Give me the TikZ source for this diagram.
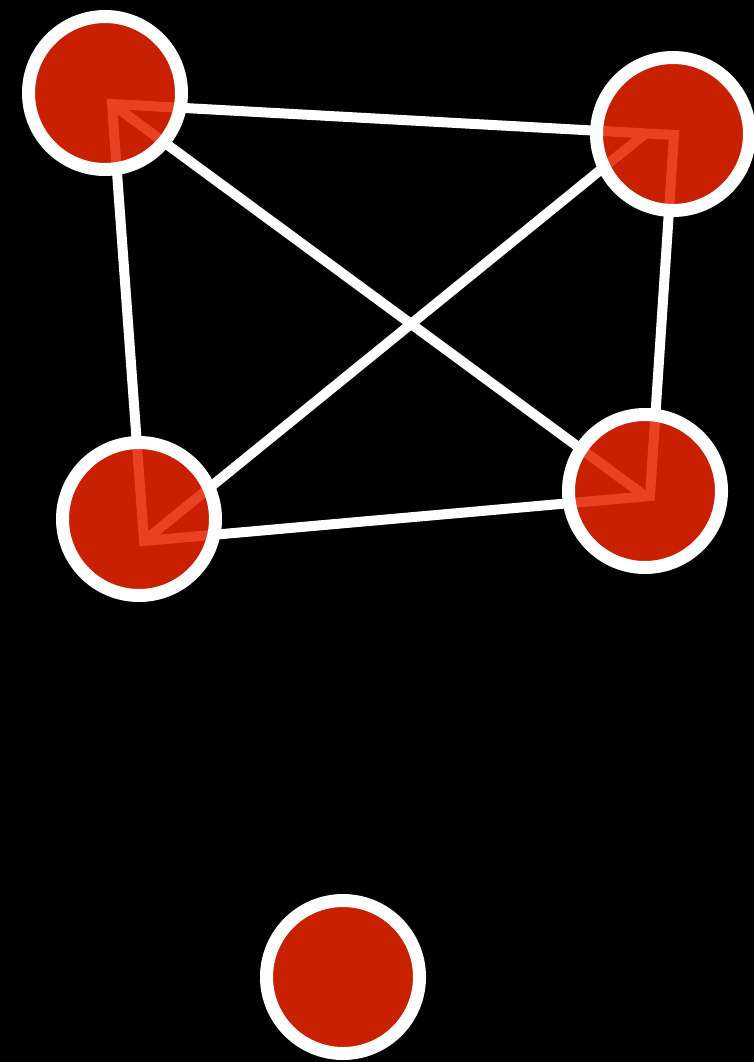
\documentclass[tikz,border=0pt]{standalone}
\begin{document}
\begin{tikzpicture}[x=1pt,y=-1pt,
  link/.style={draw=white,line width=10pt,line join=miter},
  vertex/.style={circle,draw=white,line width=13pt,fill={rgb,255:red,230;green,37;blue,0},
    fill opacity=0.87,draw opacity=1,minimum size=153pt,inner sep=0pt}]
  % canvas
  \fill[black] (0,0) rectangle (754,1062);
  \useasboundingbox (0,0) rectangle (754,1062);
  % vertex centres
  \coordinate (ca) at (105,93);
  \coordinate (cb) at (673,134);
  \coordinate (cc) at (139,519);
  \coordinate (cd) at (645,491);
  \coordinate (ce) at (343,977);
  % edge end points inside the vertices
  \coordinate (pa) at (112,104);
  \coordinate (pb) at (674,135);
  \coordinate (pd) at (650,496);
  \coordinate (pc) at (144,541);
  \coordinate (qd) at (645,496);
  \coordinate (qb) at (646,133);
  % edges
  \draw[link] (pa) -- (pb) -- (pd) -- (pc) -- cycle;
  \draw[link] (pa) -- (qd);
  \draw[link] (pc) -- (qb);
  % vertices
  \node[vertex] (a) at (ca) {};
  \node[vertex] (b) at (cb) {};
  \node[vertex] (c) at (cc) {};
  \node[vertex] (d) at (cd) {};
  \node[vertex] (e) at (ce) {};
\end{tikzpicture}
\end{document}
